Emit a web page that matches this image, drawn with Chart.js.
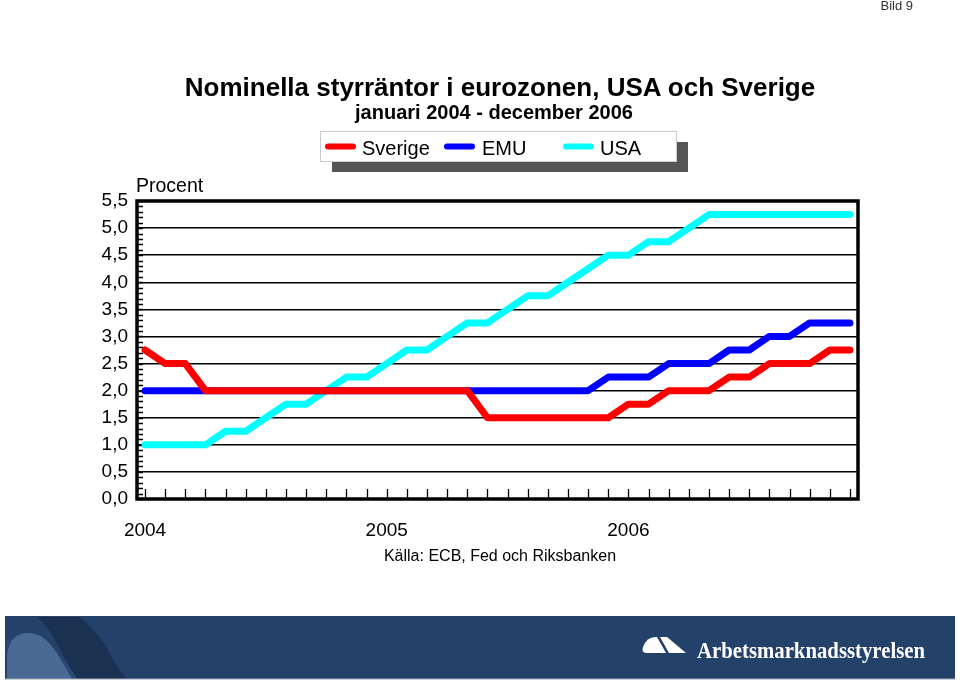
<!DOCTYPE html>
<html>
<head>
<meta charset="utf-8">
<script src="https://cdn.jsdelivr.net/npm/chart.js@4.4.1/dist/chart.umd.min.js"></script>
<style>
  html,body{margin:0;padding:0;background:#fff;}
  #wrap{position:relative;width:960px;height:681px;overflow:hidden;}
  #c{position:absolute;left:0;top:0;}
  #ov{position:absolute;left:0;top:0;pointer-events:none;}
</style>
</head>
<body>
<div id="wrap">
<canvas id="c" width="960" height="681"></canvas>
<svg id="ov" width="960" height="681" xmlns="http://www.w3.org/2000/svg" font-family="'Liberation Sans', Arial, sans-serif">
  <text x="913" y="10" font-size="13" fill="#333" text-anchor="end">Bild 9</text>
  <text x="500" y="96" font-size="26" font-weight="bold" text-anchor="middle">Nominella styrräntor i eurozonen, USA och Sverige</text>
  <text x="494" y="119" font-size="20" font-weight="bold" text-anchor="middle">januari 2004 - december 2006</text>
  <!-- legend -->
  <rect x="332" y="142" width="356" height="30" fill="#555"/>
  <rect x="320.5" y="131.5" width="356" height="30" fill="#fff" stroke="#ccc" stroke-width="1"/>
  <line x1="328" y1="146.5" x2="353" y2="146.5" stroke="#ff0000" stroke-width="6" stroke-linecap="round"/>
  <text x="362" y="155" font-size="20">Sverige</text>
  <line x1="447" y1="146.5" x2="472" y2="146.5" stroke="#0000ff" stroke-width="6" stroke-linecap="round"/>
  <text x="482" y="155" font-size="20">EMU</text>
  <line x1="566" y1="146.5" x2="591" y2="146.5" stroke="#00ffff" stroke-width="6" stroke-linecap="round"/>
  <text x="600" y="155" font-size="20">USA</text>
  <text x="136" y="192" font-size="19.5">Procent</text>
  <text x="500" y="561" font-size="16" text-anchor="middle">Källa: ECB, Fed och Riksbanken</text>
  <!-- banner -->
  <rect x="5" y="616" width="950" height="63" fill="#24416a"/>
  <path d="M 7 679 L 7 640 Q 20 636 45 645 Q 62 655 80 679 Z" fill="#2a4a76"/>
  <path d="M 37 617 L 80 617 Q 95 630 105 645 Q 115 665 127 679 L 77 679 Q 65 660 55 640 Q 47 625 37 617 Z" fill="#1b3152"/>
  <path d="M 7 679 L 7 655 Q 10 633 28 633 Q 45 633 58 655 L 72 679 Z" fill="#4a6994"/>
  <line x1="5" y1="679" x2="955" y2="679" stroke="#9aa6b6" stroke-width="1"/>
  <path d="M 655 637 L 657 637 L 666 653 L 647 653 Q 641 653 643 647 Q 647 637 655 637 Z" fill="#fff"/>
  <path d="M 660 637 L 667 637 L 686 653 L 669 653 Z" fill="#fff"/>
  <text x="697" y="658" font-size="23" font-weight="bold" fill="#fff" font-family="'Liberation Serif', 'Times New Roman', serif" textLength="228" lengthAdjust="spacingAndGlyphs">Arbetsmarknadsstyrelsen</text>
</svg>
</div>
<script>
// ---- data ----
const months = [
  '2004-01','2004-02','2004-03','2004-04','2004-05','2004-06','2004-07','2004-08','2004-09','2004-10','2004-11','2004-12',
  '2005-01','2005-02','2005-03','2005-04','2005-05','2005-06','2005-07','2005-08','2005-09','2005-10','2005-11','2005-12',
  '2006-01','2006-02','2006-03','2006-04','2006-05','2006-06','2006-07','2006-08','2006-09','2006-10','2006-11','2006-12'
];
const yearLabels = ['2004', '2005', '2006'];
const yearLabelMonths = ['2004-01', '2005-01', '2006-01'];
const sverige = [2.75,2.5,2.5,2,2,2,2,2,2,2,2,2,2,2,2,2,2,1.5,1.5,1.5,1.5,1.5,1.5,1.5,1.75,1.75,2,2,2,2.25,2.25,2.5,2.5,2.5,2.75,2.75];
const emu     = [2,2,2,2,2,2,2,2,2,2,2,2,2,2,2,2,2,2,2,2,2,2,2,2.25,2.25,2.25,2.5,2.5,2.5,2.75,2.75,3,3,3.25,3.25,3.25];
const usa     = [1,1,1,1,1.25,1.25,1.5,1.75,1.75,2,2.25,2.25,2.5,2.75,2.75,3,3.25,3.25,3.5,3.75,3.75,4,4.25,4.5,4.5,4.75,4.75,5,5.25,5.25,5.25,5.25,5.25,5.25,5.25,5.25];
const yTickLabels = ['0,0','0,5','1,0','1,5','2,0','2,5','3,0','3,5','4,0','4,5','5,0','5,5'];

const toPts = arr => arr.map((v, i) => ({x: i, y: v}));

const frame = {
  id: 'frame',
  beforeDatasetsDraw(chart) {
    const {ctx, chartArea: a, scales: {x, y}} = chart;
    ctx.save();
    ctx.strokeStyle = '#000';
    ctx.lineWidth = 1.3;
    ctx.beginPath();
    for (let k = 0; k <= 55; k++) {
      const py = Math.round(y.getPixelForValue(k / 10)) + 0.5;
      ctx.moveTo(a.left, py); ctx.lineTo(a.left + 6, py);
    }
    months.forEach((m, i) => {
      const px = Math.round(x.getPixelForValue(i)) + 0.5;
      ctx.moveTo(px, a.bottom); ctx.lineTo(px, a.bottom - 10);
    });
    ctx.stroke();
    ctx.lineWidth = 3.5;
    ctx.strokeRect(a.left, a.top, a.right - a.left, a.bottom - a.top);
    ctx.restore();
  }
};

new Chart(document.getElementById('c'), {
  type: 'line',
  data: {
    datasets: [
      {label: 'Sverige', data: toPts(sverige), borderColor: '#ff0000'},
      {label: 'EMU', data: toPts(emu), borderColor: '#0000ff'},
      {label: 'USA', data: toPts(usa), borderColor: '#00ffff'}
    ].map(d => Object.assign(d, {borderWidth: 7, pointRadius: 0, tension: 0, fill: false,
      borderCapStyle: 'round', borderJoinStyle: 'round'}))
  },
  options: {
    responsive: false,
    devicePixelRatio: 1,
    animation: false,
    layout: {padding: {left: 0, top: 201, right: 102, bottom: 122}},
    plugins: {legend: {display: false}, tooltip: {enabled: false}, title: {display: false}},
    scales: {
      x: {
        type: 'linear', min: -0.4, max: months.length - 0.6,
        afterFit(s) { s.height = 60; },
        afterBuildTicks(s) { s.ticks = yearLabelMonths.map(m => ({value: months.indexOf(m)})); },
        grid: {display: false},
        border: {display: false},
        ticks: {
          autoSkip: false, maxRotation: 0, padding: 12, color: '#000',
          font: {family: "'Liberation Sans', Arial, sans-serif", size: 19},
          callback: (v) => yearLabels[yearLabelMonths.indexOf(months[v])] || ''
        }
      },
      y: {
        min: 0, max: 5.5,
        afterFit(s) { s.width = 137; },
        grid: {color: '#000', lineWidth: 1.5, drawTicks: false},
        border: {display: false},
        ticks: {
          stepSize: 0.5, padding: 9, color: '#000',
          font: {family: "'Liberation Sans', Arial, sans-serif", size: 19},
          callback: (v) => yTickLabels[Math.round(v * 2)]
        }
      }
    }
  },
  plugins: [frame]
});
</script>
</body>
</html>
